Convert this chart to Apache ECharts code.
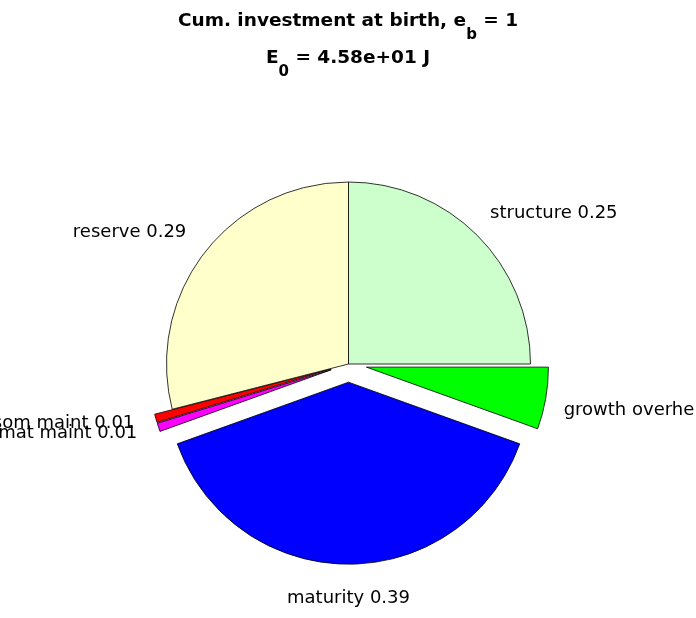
<!DOCTYPE html>
<html>
<head>
<meta charset="utf-8">
<script src="https://cdn.jsdelivr.net/npm/echarts@6/dist/echarts.min.js"></script>
<style>
html,body{margin:0;padding:0;background:#fff;}
#chart{width:696px;height:618px;}
</style>
</head>
<body>
<div id="chart"></div>
<script>
// ---- data ----
const categories = ['structure', 'growth overhead', 'maturity', 'mat maint', 'som maint', 'reserve'];
const fractions  = [0.25, 0.055, 0.39, 0.0075, 0.0075, 0.29];
const exploded   = [false, true, true, true, true, false];
const sliceColors = ['#CCFFCC', '#00FF00', '#0000FF', '#FF00FF', '#FF0000', '#FFFFCC'];
const titleLine1 = ['Cum. investment at birth, e', 'b', ' = 1'];
const titleLine2 = ['E', '0', ' = 4.58e+01 J'];

// ---- layout ----
const W = 696;
const CX = 348.5, CY = 364, R = 182;
const FONT = '"DejaVu Sans", sans-serif';

const total = fractions.reduce((a, b) => a + b, 0);
const cumStart = [];
fractions.reduce((acc, v, i) => { cumStart[i] = acc; return acc + v; }, 0);

const richTitle = {
  t: {fontSize: 18.5, fontWeight: 'bold', fontFamily: FONT, color: '#000', lineHeight: 30, verticalAlign: 'top'},
  s: {fontSize: 15, fontWeight: 'bold', fontFamily: FONT, color: '#000', lineHeight: 14, padding: [16, 0, 0, 0], verticalAlign: 'top'}
};
function titleText(parts) {
  return '{t|' + parts[0] + '}{s|' + parts[1] + '}{t|' + parts[2] + '}';
}

const pieData = categories.map((n, i) => ({
  name: n,
  value: fractions[i],
  selected: exploded[i],
  itemStyle: {color: sliceColors[i]}
}));

const chart = echarts.init(document.getElementById('chart'), null, {renderer: 'canvas'});
chart.setOption({
  animation: false,
  backgroundColor: '#fff',
  title: [
    {text: titleText(titleLine1), left: 'center', top: 12, padding: 0, textStyle: {rich: richTitle}},
    {text: titleText(titleLine2), left: 'center', top: 49, padding: 0, textStyle: {rich: richTitle}}
  ],
  series: [{
    // slices (exploded ones via selection offset)
    type: 'pie',
    center: [CX, CY],
    radius: R,
    startAngle: 90,
    clockwise: true,
    selectedMode: 'multiple',
    selectedOffset: 0.1 * R,
    emphasis: {disabled: true},
    itemStyle: {borderColor: '#000', borderWidth: 0.8},
    label: {show: false},
    labelLine: {show: false},
    data: pieData
  }, {
    // label layer: same slices, transparent, labels placed MATLAB-style
    type: 'pie',
    center: [CX, CY],
    radius: R,
    startAngle: 90,
    clockwise: true,
    silent: true,
    selectedMode: false,
    avoidLabelOverlap: false,
    emphasis: {disabled: true},
    itemStyle: {color: 'rgba(0,0,0,0)', borderWidth: 0},
    label: {
      show: true,
      position: 'outside',
      fontFamily: FONT,
      fontSize: 18,
      color: '#000',
      overflow: 'truncate',
      ellipsis: '',
      formatter: p => p.name + ' ' + p.value.toFixed(2)
    },
    labelLine: {show: false, length: 0, length2: 0},
    labelLayout: function (p) {
      const i = p.dataIndex;
      const mid = (cumStart[i] + fractions[i] / 2) / total;
      const th = (90 - 360 * mid) * Math.PI / 180;
      const c = Math.cos(th), s = Math.sin(th);
      const rl = 1.1 * R + (exploded[i] ? 0.1 * R : 0);
      let x = CX + rl * c, y = CY - rl * s;
      const align = Math.abs(c) < 0.2 ? 'center' : (c > 0 ? 'left' : 'right');
      let va;
      if (s > 0) va = 'bottom';
      else if (c > -0.2) va = 'top';
      else va = 'middle';
      if (align === 'center') y += 7;
      if (align === 'right') x -= 4;
      const out = {x: x, y: y, align: align, verticalAlign: va};
      if (align === 'left') out.width = W - x + 2;
      return out;
    },
    data: categories.map((n, i) => ({name: n, value: fractions[i]}))
  }]
});
</script>
</body>
</html>
